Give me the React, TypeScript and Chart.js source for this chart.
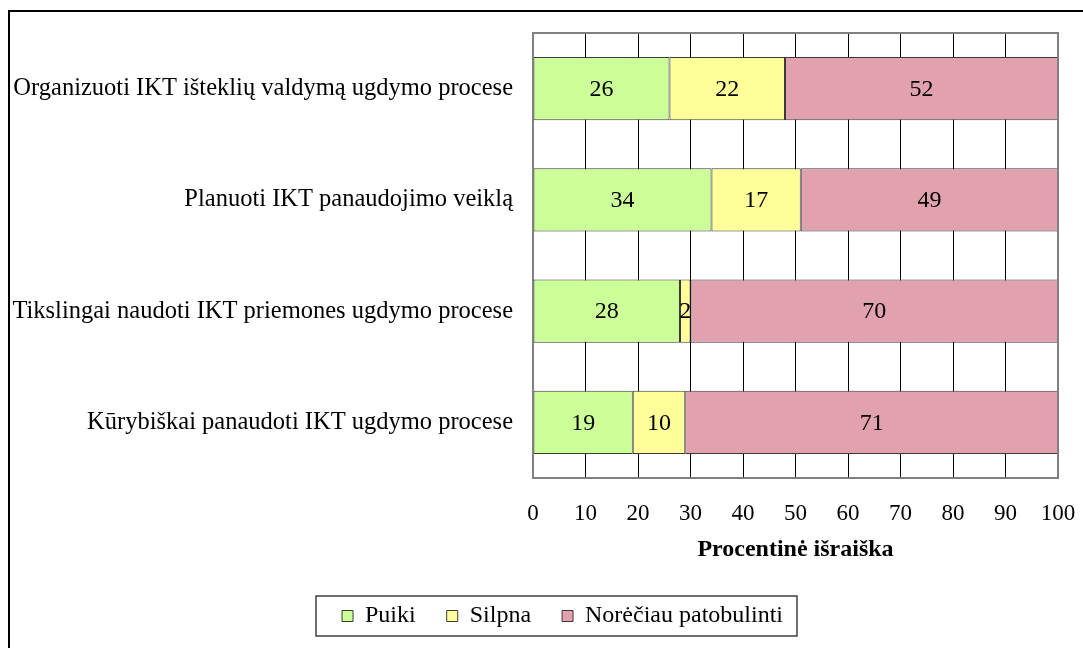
import React, { useEffect, useRef } from "react";
import { Chart, registerables } from "chart.js";

Chart.register(...registerables);

const categories = [
  "Organizuoti IKT išteklių valdymą ugdymo procese",
  "Planuoti IKT panaudojimo veiklą",
  "Tikslingai naudoti IKT priemones ugdymo procese",
  "Kūrybiškai panaudoti IKT ugdymo procese",
];
const seriesNames = ["Puiki", "Silpna", "Norėčiau patobulinti"];
const puiki = [26, 34, 28, 19];
const silpna = [22, 17, 2, 10];
const norecIau = [52, 49, 70, 71];
const seriesColors = ["#CCFF99", "#FFFF99", "#E2A1AE"];
const xTickValues = [0, 10, 20, 30, 40, 50, 60, 70, 80, 90, 100];
const xTitle = "Procentinė išraiška";

const FONT = "'Liberation Serif', 'Times New Roman', serif";

const framePlugin = {
  id: "frame",
  beforeDraw(chart: any) {
    const ctx = chart.ctx;
    ctx.save();
    ctx.strokeStyle = "#000";
    ctx.lineWidth = 2;
    ctx.beginPath();
    ctx.moveTo(8, 11);
    ctx.lineTo(chart.width, 11);
    ctx.moveTo(9, 10);
    ctx.lineTo(9, chart.height);
    ctx.stroke();
    ctx.restore();
  },
  afterDatasetsDraw(chart: any) {
    const { ctx, chartArea } = chart;
    ctx.save();
    ctx.strokeStyle = "#808080";
    ctx.lineWidth = 2;
    ctx.strokeRect(chartArea.left, chartArea.top, chartArea.right - chartArea.left, chartArea.bottom - chartArea.top);
    // value labels
    ctx.fillStyle = "#000";
    ctx.font = `24px ${FONT}`;
    ctx.textAlign = "center";
    ctx.textBaseline = "middle";
    chart.data.datasets.forEach((ds: any, di: number) => {
      const meta = chart.getDatasetMeta(di);
      meta.data.forEach((el: any, i: number) => {
        const v = ds.data[i];
        const cx = (el.x + el.base) / 2;
        ctx.fillText(String(v), cx, el.y + 1);
      });
    });
    ctx.restore();
  },
  afterDraw(chart: any) {
    const lg = chart.legend;
    if (!lg || !lg.legendHitBoxes || !lg.legendHitBoxes.length) return;
    const boxes = lg.legendHitBoxes;
    const first = boxes[0];
    const last = boxes[boxes.length - 1];
    const cy = first.top + first.height / 2;
    const ctx = chart.ctx;
    ctx.save();
    ctx.strokeStyle = "#404040";
    ctx.lineWidth = 1.5;
    const l = first.left - 26;
    const r = last.left + last.width + 14;
    ctx.strokeRect(l, cy - 20, r - l, 40);
    ctx.restore();
  },
};

export default function App() {
  const ref = useRef<HTMLCanvasElement | null>(null);
  useEffect(() => {
    if (!ref.current) return;
    const data = [puiki, silpna, norecIau];
    const chart = new Chart(ref.current, {
      type: "bar",
      data: {
        labels: categories,
        datasets: data.map((d, i) => ({
          label: seriesNames[i],
          data: d,
          backgroundColor: seriesColors[i],
          borderColor: "#3a3a3a",
          borderWidth: 1,
          borderSkipped: false,
          barPercentage: 0.57,
          categoryPercentage: 1,
        })),
      },
      options: {
        indexAxis: "y",
        responsive: false,
        animation: false,
        layout: { padding: { left: 67, top: 33, right: 25, bottom: 10 } },
        plugins: {
          tooltip: { enabled: false },
          legend: {
            position: "bottom",
            labels: {
              boxWidth: 11,
              boxHeight: 11,
              padding: 31,
              color: "#000",
              font: { family: FONT, size: 24 },
            },
          },
        },
        scales: {
          x: {
            stacked: true,
            min: 0,
            max: 100,
            afterBuildTicks: (scale: any) => {
              scale.ticks = xTickValues.map((v) => ({ value: v }));
            },
            afterFit: (scale: any) => {
              scale.height = 95;
              scale.paddingLeft = 0;
              scale.paddingRight = 0;
            },
            grid: { color: "#000", lineWidth: 1, drawTicks: false },
            border: { display: false },
            ticks: {
              padding: 22,
              color: "#000",
              font: { family: FONT, size: 23 },
              maxRotation: 0,
              autoSkip: false,
            },
            title: {
              display: true,
              text: xTitle,
              color: "#000",
              font: { family: FONT, size: 24, weight: "bold" },
              padding: { top: 4, bottom: 9 },
            },
          },
          y: {
            stacked: true,
            afterFit: (scale: any) => {
              scale.width = 466;
              scale.paddingTop = 0;
              scale.paddingBottom = 0;
              scale._computeLabelArea = () => undefined;
            },
            grid: { display: false, drawTicks: false },
            border: { display: false },
            ticks: {
              padding: 20,
              color: "#000",
              font: { family: FONT, size: 24.5 },
              autoSkip: false,
            },
          },
        },
      },
      plugins: [framePlugin],
    } as any);
    return () => chart.destroy();
  }, []);
  return (
    <div style={{ position: "absolute", left: 0, top: 0, width: 1083, height: 648, background: "#fff" }}>
      <canvas ref={ref} width={1083} height={648} style={{ display: "block" }} />
    </div>
  );
}
